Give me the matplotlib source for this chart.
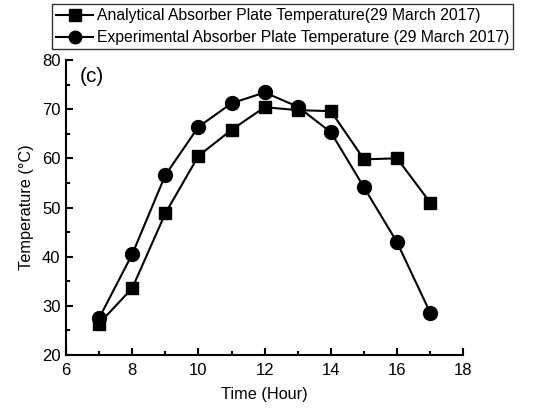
import matplotlib
matplotlib.use("Agg")
import matplotlib.pyplot as plt
from matplotlib.ticker import MultipleLocator

plt.rcParams['font.family'] = ['Liberation Sans', 'DejaVu Sans']

hours = [7, 8, 9, 10, 11, 12, 13, 14, 15, 16, 17]
analytical = [26.4, 33.6, 48.8, 60.5, 65.8, 70.4, 69.8, 69.6, 59.8, 60.0, 51.0]
experimental = [27.5, 40.5, 56.6, 66.4, 71.2, 73.4, 70.5, 65.3, 54.1, 42.9, 28.6]
labels = ["Analytical Absorber Plate Temperature(29 March 2017)",
          "Experimental Absorber Plate Temperature (29 March 2017)"]

fig = plt.figure(figsize=(5.35, 4.13), dpi=100)
ax = fig.add_axes([0.1234, 0.1404, 0.7426, 0.7143])

l1, = ax.plot(hours, analytical, color='black', lw=1.5, marker='s', ms=9, label=labels[0])
l2, = ax.plot(hours, experimental, color='black', lw=1.5, marker='o', ms=10, label=labels[1])

ax.set_xlim(6, 18)
ax.set_ylim(20, 80)
ax.xaxis.set_major_locator(MultipleLocator(2))
ax.xaxis.set_minor_locator(MultipleLocator(1))
ax.yaxis.set_major_locator(MultipleLocator(10))
ax.yaxis.set_minor_locator(MultipleLocator(5))
ax.tick_params(which='both', direction='in', width=1.5, labelsize=12)
ax.tick_params(axis='x', pad=6)
ax.tick_params(axis='y', pad=4)
ax.tick_params(which='major', length=5)
ax.tick_params(which='minor', length=3)
for s in ['top', 'right']:
    ax.spines[s].set_visible(False)
for s in ['left', 'bottom']:
    ax.spines[s].set_linewidth(1.5)

ax.set_xlabel("Time (Hour)", fontsize=11.7, labelpad=6)
ax.set_ylabel("Temperature (°C)", fontsize=11.7, labelpad=6)
ax.text(0.035, 0.975, "(c)", transform=ax.transAxes, fontsize=15, va='top', ha='left')

leg = fig.legend(handles=[l1, l2], loc='upper left', bbox_to_anchor=(0.097, 0.99),
                 fontsize=11.3, frameon=True, fancybox=False, edgecolor='black',
                 handlelength=2.4, handletextpad=0.2, borderpad=0.25, labelspacing=0.45,
                 borderaxespad=0, markerscale=0.9)
leg.get_frame().set_linewidth(1.0)

fig.savefig("out.png", dpi=100)
